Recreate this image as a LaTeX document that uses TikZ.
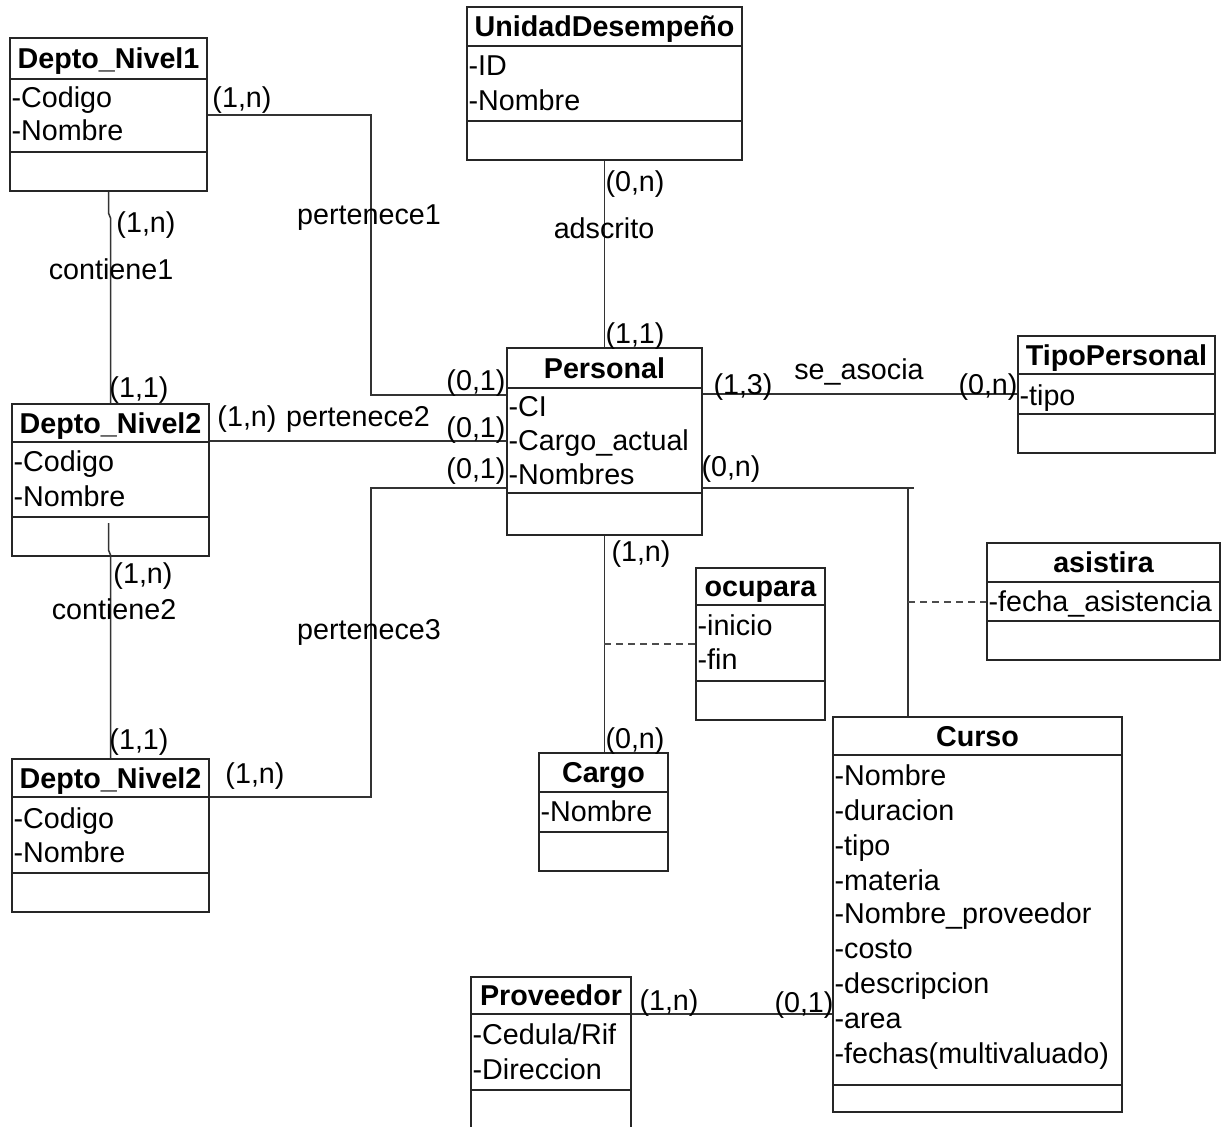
\documentclass[tikz,border=0pt]{standalone}
\usepackage{fontspec}
\setmainfont{Liberation Sans}
\usetikzlibrary{fit}
\tikzset{
  ubox/.style={draw=black!85, line width=0.9pt, inner sep=0pt},
  usep/.style={draw=black!85, line width=0.9pt},
  utitle/.style={font=\fontsize{14.35pt}{17pt}\selectfont\bfseries, inner sep=0pt, anchor=base},
  uattr/.style={font=\fontsize{14.35pt}{17pt}\selectfont, anchor=base west, inner xsep=0.6pt, inner ysep=0pt},
  ulab/.style={font=\fontsize{14.35pt}{17pt}\selectfont, inner sep=0pt, anchor=base},
  conn/.style={draw=black!80, line width=0.75pt},
  dconn/.style={draw=black!70, line width=0.75pt, dash pattern=on 3.5pt off 2.5pt},
}
% text positions are given as the visual middle of capitals; baseline is 10px lower
\newcommand\uclass[8]{%
  \node[ubox, fit={(#2,#3) (#4,#5)}] (#1) {};
  \draw[usep] (#2,#6) -- (#4,#6);
  \draw[usep] (#2,#7) -- (#4,#7);
  \node[utitle] (#1-t) at ({(#2+#4)/2},{(#3+#6)/2+10}) {#8};
}
\newcommand\uat[4]{\node[uattr] (#1) at (#2,{#3+10}) {#4};}
\newcommand\ulb[4]{\node[ulab] (#1) at (#2,{#3+10}) {#4};}
\begin{document}
\begin{tikzpicture}[x=0.5pt,y=-0.5pt]
\useasboundingbox (0,0) rectangle (1221,1126);
\fill[white] (0,0) rectangle (1221,1126);

% classes
\uclass{DN1}{10}{38}{207}{191}{79}{152}{Depto\_Nivel1}
\uat{DN1-a1}{10}{97}{-Codigo}
\uat{DN1-a2}{10}{130}{-Nombre}

\uclass{UD}{467}{7}{742}{160}{46}{121}{UnidadDesempeño}
\uat{UD-a1}{467}{65}{-ID}
\uat{UD-a2}{467}{100}{-Nombre}

\uclass{Per}{507}{348}{702}{535}{388}{493}{Personal}
\uat{Per-a1}{507}{406}{-CI}
\uat{Per-a2}{507}{440}{-Cargo\_actual}
\uat{Per-a3}{507}{474}{-Nombres}

\uclass{TP}{1018}{336}{1215}{453}{374}{414}{TipoPersonal}
\uat{TP-a1}{1018}{395}{-tipo}

\uclass{DNa}{12}{404}{209}{556}{442}{517}{Depto\_Nivel2}
\uat{DNa-a1}{12}{461}{-Codigo}
\uat{DNa-a2}{12}{496}{-Nombre}

\uclass{DNb}{12}{759}{209}{912}{797}{873}{Depto\_Nivel2}
\uat{DNb-a1}{12}{818}{-Codigo}
\uat{DNb-a2}{12}{852}{-Nombre}

\uclass{As}{987}{543}{1220}{660}{582}{621}{asistira}
\uat{As-a1}{987}{601}{-fecha\_asistencia}

\uclass{Oc}{696}{568}{825}{720}{605}{681}{ocupara}
\uat{Oc-a1}{696}{625}{-inicio}
\uat{Oc-a2}{696}{659}{-fin}

\uclass{Ca}{539}{753}{668}{871}{792}{832}{Cargo}
\uat{Ca-a1}{539}{811}{-Nombre}

\uclass{Cu}{833}{717}{1122}{1112}{755}{1085}{Curso}
\uat{Cu-a1}{833}{775}{-Nombre}
\uat{Cu-a2}{833}{810}{-duracion}
\uat{Cu-a3}{833}{845}{-tipo}
\uat{Cu-a4}{833}{880}{-materia}
\uat{Cu-a5}{833}{913}{-Nombre\_proveedor}
\uat{Cu-a6}{833}{948}{-costo}
\uat{Cu-a7}{833}{983}{-descripcion}
\uat{Cu-a8}{833}{1018}{-area}
\uat{Cu-a9}{833}{1053}{-fechas(multivaluado)}

\uclass{Pr}{471}{977}{631}{1140}{1014}{1090}{Proveedor}
\uat{Pr-a1}{471}{1034}{-Cedula/Rif}
\uat{Pr-a2}{471}{1069}{-Direccion}

% connectors
\draw[conn] (DN1.east |- 0,115) -- (371,115) -- (371,395) -- (Per.west |- 0,395);
\draw[conn] (DN1.south) -- (108.5,213) -- (110.5,218) -- (DNa.north);
\draw[conn] (DNa.east |- 0,441) -- (Per.west |- 0,441);
\coordinate (c2s) at (108.5,523);
\draw[conn] (c2s) -- (108.5,550) -- (110.5,555) -- (DNb.north);
\draw[conn] (DNb.east |- 0,797) -- (371,797) -- (371,488) -- (Per.west |- 0,488);
\draw[conn] (UD.south) -- (Per.north);
\draw[conn] (Per.east |- 0,394) -- (TP.west |- 0,394);
\coordinate (asj) at (908,488);
\coordinate (ase) at (914,488);
\draw[conn] (Per.east |- 0,488) -- (ase);
\draw[conn] (asj) -- (asj |- Cu.north);
\draw[dconn] (908,602) -- (As.west |- 0,602);
\draw[conn] (Per.south) -- (Ca.north -| Per.south);
\draw[dconn] (604,644) -- (Oc.west |- 0,644);
\draw[conn] (Pr.east |- 0,1014) -- (Cu.west |- 0,1014);

% labels
\ulb{l1}{242}{97}{(1,n)}
\ulb{l2}{369}{214}{pertenece1}
\ulb{l3}{476}{380}{(0,1)}
\ulb{l4}{146}{222}{(1,n)}
\ulb{l5}{111}{269}{contiene1}
\ulb{l6}{139}{387}{(1,1)}
\ulb{l7}{247}{416}{(1,n)}
\ulb{l8}{358}{416}{pertenece2}
\ulb{l9}{476}{427}{(0,1)}
\ulb{l10}{476}{468}{(0,1)}
\ulb{l11}{143}{573}{(1,n)}
\ulb{l12}{114}{609}{contiene2}
\ulb{l13}{139}{739}{(1,1)}
\ulb{l14}{255}{773}{(1,n)}
\ulb{l15}{369}{629}{pertenece3}
\ulb{l16}{635}{181}{(0,n)}
\ulb{l17}{604}{228}{adscrito}
\ulb{l18}{635}{333}{(1,1)}
\ulb{l19}{743}{384}{(1,3)}
\ulb{l20}{859}{369}{se\_asocia}
\ulb{l21}{988}{384}{(0,n)}
\ulb{l22}{731}{466}{(0,n)}
\ulb{l23}{641}{551}{(1,n)}
\ulb{l24}{635}{738}{(0,n)}
\ulb{l25}{669}{1000}{(1,n)}
\ulb{l26}{804}{1002}{(0,1)}
\end{tikzpicture}
\end{document}
